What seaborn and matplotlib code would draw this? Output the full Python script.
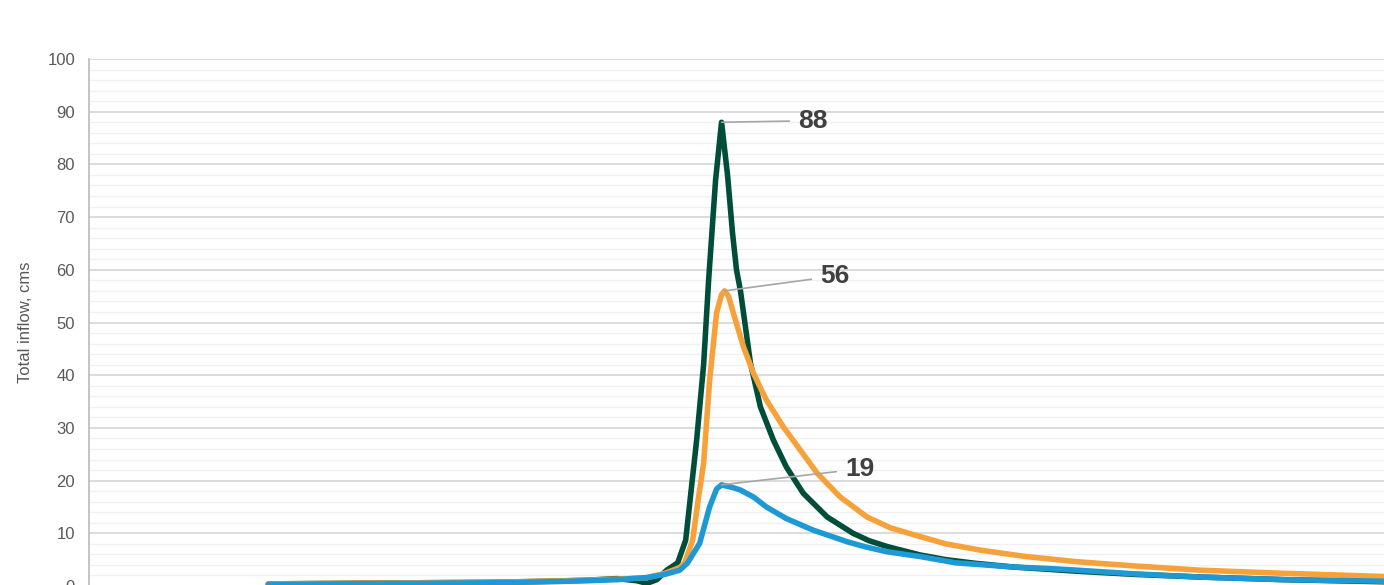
import numpy as np
import pandas as pd
import matplotlib
matplotlib.use("Agg")
import matplotlib.pyplot as plt
from matplotlib.ticker import MultipleLocator
import seaborn as sns

# Time axis (hours) and inflow readings for each scenario
t_green = [18, 25, 32, 40, 46, 50, 53, 55, 56, 57, 58, 59.1, 59.9, 61.0, 61.7, 62.2, 62.9, 63.5,
           64.1, 64.6, 65.0, 65.4, 66.4, 67.4, 68.7, 70.0, 71.7, 74.1, 76.7, 78.3, 80.1, 83.4,
           86.0, 89.0, 92.8, 99.2, 105.0, 111.5, 120.0, 130.0]
v_green = [0.4, 0.5, 0.6, 0.7, 0.9, 1.1, 1.4, 1.0, 0.5, 1.2, 3.0, 4.4, 8.7, 27.7, 42.0, 58.0, 77.0, 88.0,
           78.0, 67.0, 60.0, 56.0, 42.3, 34.0, 27.7, 22.6, 17.6, 13.1, 10.0, 8.6, 7.5, 5.9,
           5.0, 4.3, 3.6, 2.8, 2.2, 1.7, 1.2, 0.8]

t_orange = [18, 25, 32, 40, 46, 50, 53, 56, 57.8, 59.3, 59.8, 60.6, 61.2, 61.7, 62.3, 63.0, 63.5, 63.8,
            64.2, 64.7, 65.7, 66.7, 68.0, 69.7, 71.4, 73.1, 75.4, 78.1, 80.5, 83.4, 86.0, 89.5,
            94.0, 99.2, 105.0, 111.5, 120.0, 130.0]
v_orange = [0.4, 0.5, 0.6, 0.7, 0.9, 1.1, 1.3, 1.6, 2.4, 3.5, 4.4, 8.7, 17.0, 23.3, 39.0, 51.8, 55.3, 56.0,
            55.0, 51.7, 45.4, 40.4, 35.3, 30.2, 25.8, 21.4, 16.9, 13.1, 11.0, 9.4, 8.0, 6.8,
            5.6, 4.6, 3.8, 3.0, 2.4, 1.8]

t_blue = [18, 25, 32, 40, 46, 50, 53, 56, 57.8, 59.3, 60.1, 61.3, 62.3, 63.0, 63.5, 63.9, 64.6, 65.4,
          66.7, 68.0, 70.0, 72.7, 76.1, 78.0, 80.1, 83.4, 87.0, 92.8, 96.5, 99.2, 105.0, 111.5,
          120.0, 130.0]
v_blue = [0.3, 0.4, 0.5, 0.6, 0.8, 1.0, 1.2, 1.6, 2.2, 3.0, 4.4, 8.1, 15.0, 18.4, 19.2, 19.0, 18.7, 18.2,
          16.9, 15.0, 12.8, 10.6, 8.4, 7.4, 6.5, 5.6, 4.4, 3.6, 3.3, 3.0, 2.3, 1.7,
          1.2, 0.9]

series_names = ["Scenario 1", "Scenario 2", "Scenario 3"]
series_colors = ["#004d3a", "#f7a13b", "#1d9ad6"]

df = pd.concat([
    pd.DataFrame({"hour": t_green, "inflow": v_green, "scenario": series_names[0]}),
    pd.DataFrame({"hour": t_orange, "inflow": v_orange, "scenario": series_names[1]}),
    pd.DataFrame({"hour": t_blue, "inflow": v_blue, "scenario": series_names[2]}),
], ignore_index=True)

# where each peak label sits (hours, cms)
label_pos = {series_names[0]: (71.2, 88.3),
             series_names[1]: (73.4, 58.8),
             series_names[2]: (75.9, 22.2)}

sns.set_style("white")
plt.rcParams["font.family"] = ["Liberation Sans", "DejaVu Sans"]

fig = plt.figure(figsize=(13.84, 5.85), dpi=100)
ax = fig.add_axes([0.0643, -0.0017, 0.9357, 0.9008])

sns.lineplot(data=df, x="hour", y="inflow", hue="scenario", palette=series_colors,
             hue_order=series_names, estimator=None, sort=False, linewidth=4,
             legend=False, ax=ax)
for line in ax.get_lines():
    line.set_solid_joinstyle("round")
    line.set_solid_capstyle("round")

ax.set_xlim(0, 130)
ax.set_ylim(0, 100)
ax.yaxis.set_major_locator(MultipleLocator(10))
ax.yaxis.set_minor_locator(MultipleLocator(2))
ax.set_xticks([])
ax.grid(which="major", axis="y", color="#d9d9d9", linewidth=1.3)
ax.grid(which="minor", axis="y", color="#f0f0f0", linewidth=1.0)
ax.set_axisbelow(True)

for side in ["top", "right", "bottom"]:
    ax.spines[side].set_visible(False)
ax.spines["left"].set_color("#bfbfbf")
ax.spines["left"].set_linewidth(1.3)
ax.tick_params(axis="y", which="major", length=5, width=1.0, color="#bfbfbf",
               labelsize=12, labelcolor="#595959", pad=5)
ax.tick_params(axis="y", which="minor", length=0)

ax.set_xlabel("")
ax.set_ylabel("Total inflow, cms", fontsize=12, color="#595959", labelpad=10)

# peak labels
for name in series_names:
    sub = df[df["scenario"] == name]
    i = sub["inflow"].idxmax()
    px, py = sub.loc[i, "hour"], sub.loc[i, "inflow"]
    ax.annotate(f"{py:.0f}", xy=(px, py), xytext=label_pos[name],
                ha="left", va="center", fontsize=19, fontweight="bold", color="#404040",
                arrowprops=dict(arrowstyle="-", color="#a6a6a6", lw=1.2,
                                shrinkA=4, shrinkB=0))

fig.savefig("out.png", dpi=100)
